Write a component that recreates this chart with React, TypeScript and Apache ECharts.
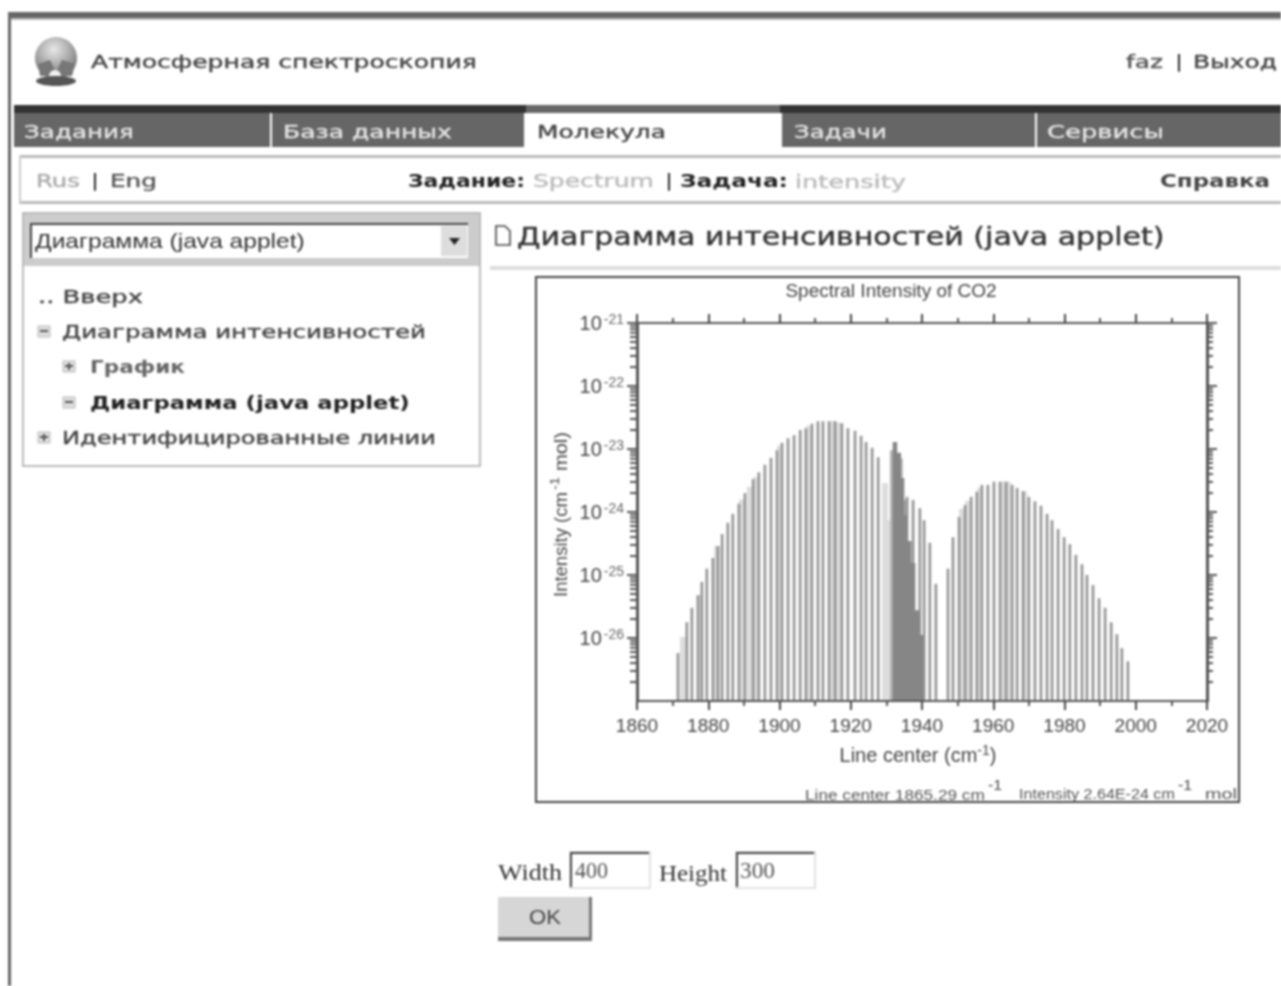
import React, { useEffect, useRef } from "react";
import * as echarts from "echarts";

// ---------- chart values (x: line centre in cm-1, y: log10 of intensity) ----------
const xTickMin = 1860;
const xTickMax = 2020;
const titleText = "Spectral Intensity of CO2";
const yExponents = [-27, -26, -25, -24, -23, -22, -21];
const minorMultipliers = [2, 3, 4, 5, 6, 7, 8, 9];

const mainCenters = [
  1871.5, 1874.0, 1875.4, 1877.1, 1878.2, 1879.6, 1881.3, 1882.7, 1883.9, 1885.5, 1886.9, 1888.6, 1890.3, 1892.6,
  1894.2, 1895.9, 1897.6, 1899.3, 1900.7, 1902.4, 1904.1, 1905.8, 1907.4, 1909.1, 1910.8, 1912.2, 1913.9, 1915.6,
  1917.5, 1919.2, 1921.2, 1922.9, 1924.3, 1926.0, 1927.7, 1934.7, 1935.8, 1937.5, 1939.4, 1940.6, 1942.2, 1943.9,
  1947.3, 1948.7, 1950.4, 1952.1, 1953.8, 1955.4, 1956.8, 1958.5, 1960.2, 1961.9, 1963.6, 1965.3, 1966.7, 1968.4,
  1970.0, 1971.7, 1973.4, 1975.1, 1976.5, 1978.2, 1979.9, 1981.5, 1983.2, 1984.9, 1986.3, 1988.0, 1989.7, 1991.4,
  1993.1, 1994.7, 1996.1, 1997.8,
];
const mainLogI = [
  -26.24, -25.75, -25.52, -25.32, -25.11, -24.9, -24.73, -24.54, -24.35, -24.17, -24.03, -23.87, -23.7, -23.48,
  -23.37, -23.25, -23.14, -23.02, -22.9, -22.83, -22.78, -22.7, -22.67, -22.6, -22.56, -22.56, -22.56, -22.56,
  -22.59, -22.67, -22.71, -22.79, -22.89, -22.98, -23.13, -23.81, -23.76, -23.81, -23.94, -24.13, -24.49, -25.14,
  -24.9, -24.4, -24.08, -23.89, -23.76, -23.68, -23.57, -23.57, -23.52, -23.52, -23.52, -23.57, -23.62, -23.67,
  -23.76, -23.83, -23.9, -24.03, -24.13, -24.27, -24.4, -24.51, -24.68, -24.83, -25.0, -25.16, -25.37, -25.52,
  -25.75, -25.94, -26.16, -26.37,
];
const paleCenters = [
  1872.9, 1877.7, 1882.5, 1889.4, 1891.7, 1893.3, 1900.1, 1908.3, 1914.8, 1916.4, 1929.6, 1930.8, 1951.2, 1952.9,
  1956.3, 1962.7, 1964.1, 1968.7,
];
const paleLogI = [
  -25.98, -25.32, -24.54, -23.8, -23.6, -23.45, -22.95, -22.63, -22.56, -22.58, -23.54, -24.13, -23.95, -23.82,
  -23.62, -23.52, -23.52, -23.67,
];
const midCenters = [1931.7, 1933.9, 1935.3];
const midLogI = [-23.02, -23.15, -23.81];
const denseCenters = [1932.4, 1933.5, 1934.4, 1935.2, 1936.4, 1937.5, 1938.6, 1939.7];
const denseLogI = [-22.89, -23.06, -23.46, -24.05, -24.46, -24.81, -25.56, -25.95];

// ---------- page furniture ----------
type T = [string, number, number, number, number, string, string?, string?];
const SANS = "DejaVu Sans";
const ARIAL = "Liberation Sans";
const SERIF = "Liberation Serif";
// text, x from, x to, y centre, font size, colour, weight, family
const pageTexts: T[] = [
  ["Атмосферная спектроскопия", 91, 477, 62, 18, "#444"],
  ["faz", 1126, 1163, 62, 18, "#555"],
  ["|", 1176, 1182, 62, 18, "#111", "bold"],
  ["Выход", 1193, 1277, 62, 18, "#444"],
  ["Задания", 24, 134, 132, 18, "#e4e4e4"],
  ["База данных", 283, 452, 132, 18, "#e4e4e4"],
  ["Молекула", 537, 666, 132, 18, "#444"],
  ["Задачи", 794, 887, 132, 18, "#e4e4e4"],
  ["Сервисы", 1047, 1164, 132, 18, "#e4e4e4"],
  ["Rus", 36, 80, 181, 18, "#aaa"],
  ["|", 92, 98, 181, 18, "#111", "bold"],
  ["Eng", 110, 157, 181, 18, "#555"],
  ["Задание:", 408, 525, 181, 18, "#222", "bold"],
  ["Spectrum", 533, 654, 181, 18, "#bbb"],
  ["|", 666, 672, 181, 18, "#111", "bold"],
  ["Задача:", 680, 788, 181, 18, "#222", "bold"],
  ["intensity", 795, 906, 181, 18, "#bbb"],
  ["Справка", 1160, 1270, 181, 18, "#444", "bold"],
  ["Диаграмма (java applet)", 35, 305, 241, 20, "#333", "normal", ARIAL],
  ["Диаграмма интенсивностей (java applet)", 517, 1165, 236, 25, "#333"],
  [".. Вверх", 38, 143, 297, 18, "#444"],
  ["Диаграмма интенсивностей", 62, 426, 332, 18, "#444"],
  ["График", 90, 185, 367, 18, "#666", "bold"],
  ["Диаграмма (java applet)", 90, 410, 403, 18, "#222", "bold"],
  ["Идентифицированные линии", 62, 436, 438, 18, "#444"],
  ["Width", 498, 562, 872, 24, "#333", "normal", SERIF],
  ["400", 575, 608, 870, 24, "#555", "normal", SERIF],
  ["Height", 659, 727, 873, 24, "#333", "normal", SERIF],
  ["300", 740, 775, 870, 24, "#555", "normal", SERIF],
  ["OK", 529, 561, 917, 20, "#444", "normal", ARIAL],
  ["Line center 1865.29 cm", 805, 985, 794, 15, "#555", "normal", ARIAL],
  ["-1", 988, 1002, 785, 15, "#444", "normal", ARIAL],
  ["Intensity 2.64E-24 cm", 1019, 1175, 794, 15, "#555", "normal", ARIAL],
  ["-1", 1178, 1192, 785, 15, "#444", "normal", ARIAL],
  ["mol", 1205, 1237, 794, 15, "#555", "normal", ARIAL],
];
// rotated y axis title pieces: text, y from (bottom), y to (top), x centre, font size
const yTitleParts: [string, number, number, number, number][] = [
  ["Intensity (cm", 597, 492, 561, 18],
  ["-1", 490, 477, 554, 13],
  ["mol)", 471, 432, 561, 18],
];
// x, y, w, h, fill
const pageRects: [number, number, number, number, string][] = [
  [8, 12, 1273, 6, "#666"],
  [10, 18, 1271, 2, "#bbb"],
  [8, 12, 3, 974, "#666"],
  [14, 105, 1267, 8, "#333"],
  [14, 113, 256, 34, "#666"],
  [272, 113, 252, 34, "#666"],
  [526, 105, 254, 8, "#666"],
  [782, 113, 253, 34, "#666"],
  [1037, 113, 244, 34, "#666"],
  [19, 155, 1262, 3, "#bbb"],
  [19, 201, 1262, 3, "#bbb"],
  [19, 155, 2, 48, "#ccc"],
  [22, 212, 459, 255, "#bbb"],
  [24, 214, 455, 251, "#fff"],
  [24, 214, 455, 52, "#ccc"],
  [30, 223, 438, 35, "#444"],
  [32, 225, 436, 33, "#fff"],
  [441, 226, 26, 30, "#ddd"],
  [490, 266, 791, 4, "#ddd"],
  [569, 851, 82, 38, "#e2e2e2"],
  [570, 852, 79, 35, "#444"],
  [572, 854, 77, 33, "#fff"],
  [735, 851, 81, 38, "#e2e2e2"],
  [736, 852, 78, 35, "#444"],
  [738, 854, 76, 33, "#fff"],
  [498, 897, 94, 44, "#777"],
  [498, 897, 91, 40, "#d6d6d6"],
];
// tree toggles: x, y, sign
const toggles: [number, number, string][] = [
  [38, 326, "-"],
  [63, 361, "+"],
  [63, 397, "-"],
  [38, 432, "+"],
];

const measureCtx = document.createElement("canvas").getContext("2d")!;
function fitText([text, x0, x1, yc, size, fill, weight, family]: T) {
  const w = weight || "normal";
  const f = family || SANS;
  measureCtx.font = `${w} ${size}px "${f}"`;
  const natural = measureCtx.measureText(text).width || 1;
  return {
    type: "text",
    x: x0,
    y: yc,
    scaleX: (x1 - x0) / natural,
    z: 5,
    style: {
      text, x: 0, y: 0, fill, fontSize: size, fontWeight: w, fontFamily: f, verticalAlign: "middle", align: "left",
      stroke: f === SANS && w === "normal" ? fill : "none",
      lineWidth: f === SANS && w === "normal" ? 0.4 : 0,
    },
  };
}

function pageGraphics(): any[] {
  const out: any[] = [];
  pageRects.forEach(([x, y, width, height, fill]) =>
    out.push({ type: "rect", z: 1, shape: { x, y, width, height }, style: { fill } })
  );
  toggles.forEach(([x, y, s]) => {
    out.push({ type: "rect", z: 2, shape: { x, y, width: 12, height: 11 }, style: { fill: "#ddd", stroke: "#bbb" } });
    out.push({ type: "rect", z: 3, shape: { x: x + 2, y: y + 4, width: 8, height: 2 }, style: { fill: "#555" } });
    if (s === "+") out.push({ type: "rect", z: 3, shape: { x: x + 5, y: y + 2, width: 2, height: 7 }, style: { fill: "#555" } });
  });
  // select arrow
  out.push({ type: "polygon", z: 3, shape: { points: [[449, 238], [460, 238], [454.5, 245]] }, style: { fill: "#222" } });
  // globe logo
  out.push({
    type: "circle", z: 2, shape: { cx: 56, cy: 58, r: 21 },
    style: { fill: new echarts.graphic.RadialGradient(0.45, 0.3, 0.8, [{ offset: 0, color: "#e8e8e8" }, { offset: 1, color: "#666" }]) },
  });
  out.push({ type: "polygon", z: 3, shape: { points: [[38, 64], [50, 60], [56, 72], [62, 60], [75, 64], [72, 76], [40, 76]] }, style: { fill: "#777" } });
  out.push({ type: "circle", z: 3, shape: { cx: 55, cy: 76, r: 6 }, style: { fill: "#f2f2f2" } });
  out.push({ type: "ellipse", z: 3, shape: { cx: 56, cy: 81, rx: 20, ry: 5 }, style: { fill: "#555" } });
  // page icon
  out.push({ type: "polygon", z: 3, shape: { points: [[496, 226], [505, 226], [510, 231], [510, 245], [496, 245]] }, style: { fill: "#fff", stroke: "#444", lineWidth: 1.6 } });
  // applet frame
  out.push({ type: "rect", z: 1, shape: { x: 536, y: 277, width: 703, height: 525 }, style: { fill: "#fff", stroke: "#444", lineWidth: 2 } });
  // y axis title, rotated
  yTitleParts.forEach(([text, y0, y1, xc, size]) => {
    measureCtx.font = `${size}px "${ARIAL}"`;
    out.push({
      type: "text",
      z: 5,
      x: xc,
      y: y0,
      rotation: Math.PI / 2,
      scaleX: (y0 - y1) / (measureCtx.measureText(text).width || 1),
      style: { text, x: 0, y: 0, fill: "#444", fontSize: size, fontFamily: ARIAL, align: "left", verticalAlign: "middle" },
    });
  });
  pageTexts.forEach((t) => out.push(fitText(t)));
  return out;
}

const toPairs = (xs: number[], ys: number[]) => xs.map((x, i) => [x, Math.pow(10, ys[i])]);
const yMin = Math.pow(10, yExponents[0]);
const yMax = Math.pow(10, yExponents[yExponents.length - 1]);

function lineSeries(name: string, xs: number[], ys: number[], w: number, fill: string, z: number) {
  return {
    type: "custom",
    name,
    z,
    silent: true,
    clip: false,
    encode: { x: 0, y: 1 },
    data: toPairs(xs, ys),
    renderItem: (_: any, api: any) => {
      const top = api.coord([api.value(0), api.value(1)]);
      const base = api.coord([api.value(0), yMin]);
      return { type: "rect", shape: { x: top[0] - w / 2, y: top[1], width: w, height: base[1] - top[1] }, style: { fill } };
    },
  };
}

const minorValues: number[][] = [];
yExponents.slice(0, -1).forEach((e) => minorMultipliers.forEach((m) => minorValues.push([xTickMin, m * Math.pow(10, e)])));

const yLabel = (v: number) => `{a|10}{b|${Math.round(Math.log10(v))}}`;

const axisStroke = "#555";
const xCommon = {
  type: "value",
  z: 10,
  min: xTickMin,
  max: xTickMax,
  interval: 20,
  splitLine: { show: false },
  axisLine: { show: true, onZero: false, lineStyle: { color: axisStroke, width: 2 } },
  axisTick: { show: true, length: 9, lineStyle: { color: "#444", width: 2 } },
  minorTick: { show: true, splitNumber: 2, length: 5, lineStyle: { color: "#555", width: 2 } },
  minorSplitLine: { show: false },
};
const yCommon = {
  type: "log",
  z: 10,
  logBase: 10,
  min: yMin,
  max: yMax,
  splitLine: { show: false },
  axisLine: { show: true, onZero: false, lineStyle: { color: axisStroke, width: 3 } },
  axisTick: { show: true, length: 10, lineStyle: { color: "#555", width: 2 } },
  minorTick: { show: false },
};

const option: any = {
  animation: false,
  backgroundColor: "#fff",
  textStyle: { fontFamily: ARIAL },
  title: {
    text: titleText,
    left: 886,
    top: 276,
    textAlign: "center",
    textStyle: { fontFamily: ARIAL, fontSize: 19, fontWeight: "normal", color: "#444" },
    z: 10,
  },
  grid: { left: 637, top: 323, width: 570, height: 378, containLabel: false, outerBoundsMode: "none" },
  xAxis: [
    {
      ...xCommon,
      position: "bottom",
      axisLabel: {
        show: true,
        margin: 15,
        fontSize: 19,
        color: "#444",
        fontFamily: ARIAL,
        hideOverlap: false,
        formatter: (v: number) => String(v),
      },
      name: "{a|Line center (cm}{b|-1}{a|)}",
      nameLocation: "middle",
      nameGap: 42,
      nameTextStyle: {
        padding: [0, 8, 0, 0],
        rich: {
          a: { fontSize: 20, color: "#444", fontFamily: ARIAL },
          b: { fontSize: 14, color: "#444", fontFamily: ARIAL, padding: [0, 0, 9, 0] },
        },
      },
    },
    { ...xCommon, position: "top", axisLabel: { show: false } },
  ],
  yAxis: [
    {
      ...yCommon,
      position: "left",
      axisLabel: {
        show: true,
        showMinLabel: false,
        margin: 13,
        formatter: yLabel,
        hideOverlap: false,
        rich: {
          a: { fontSize: 20, color: "#444", fontFamily: ARIAL },
          b: { fontSize: 14, color: "#666", fontFamily: ARIAL, padding: [0, 0, 9, 2] },
        },
      },
    },
    { ...yCommon, position: "right", axisLabel: { show: false } },
  ],
  series: [
    lineSeries("pale lines", paleCenters, paleLogI, 6, "#dddddd", 2),
    lineSeries("mid lines", midCenters, midLogI, 5, "#b4b4b4", 3),
    lineSeries("main lines", mainCenters, mainLogI, 2.6, "#929292", 4),
    lineSeries("Q branch", denseCenters, denseLogI, 4.5, "#868686", 5),
    {
      type: "custom",
      name: "minor ticks",
      z: 6,
      silent: true,
      clip: false,
      encode: { x: 0, y: 1 },
      data: minorValues,
      renderItem: (_: any, api: any) => {
        const p = api.coord([api.value(0), api.value(1)]);
        const q = api.coord([xTickMax, api.value(1)]);
        const style = { stroke: "#555", lineWidth: 2 };
        return {
          type: "group",
          children: [
            { type: "line", shape: { x1: p[0] - 7, y1: p[1], x2: p[0], y2: p[1] }, style },
            { type: "line", shape: { x1: q[0], y1: q[1], x2: q[0] + 6, y2: q[1] }, style },
          ],
        };
      },
    },
  ],
  graphic: { elements: pageGraphics() },
};

export default function App() {
  const ref = useRef<HTMLDivElement>(null);
  useEffect(() => {
    document.body.style.margin = "0";
    document.body.style.background = "#fff";
    const chart = echarts.init(ref.current!, undefined, { renderer: "svg" });
    chart.setOption(option);
    return () => chart.dispose();
  }, []);
  return (
    <div
      ref={ref}
      style={{ position: "absolute", left: 0, top: 0, width: 1281, height: 986, filter: "blur(0.9px)" }}
    />
  );
}
